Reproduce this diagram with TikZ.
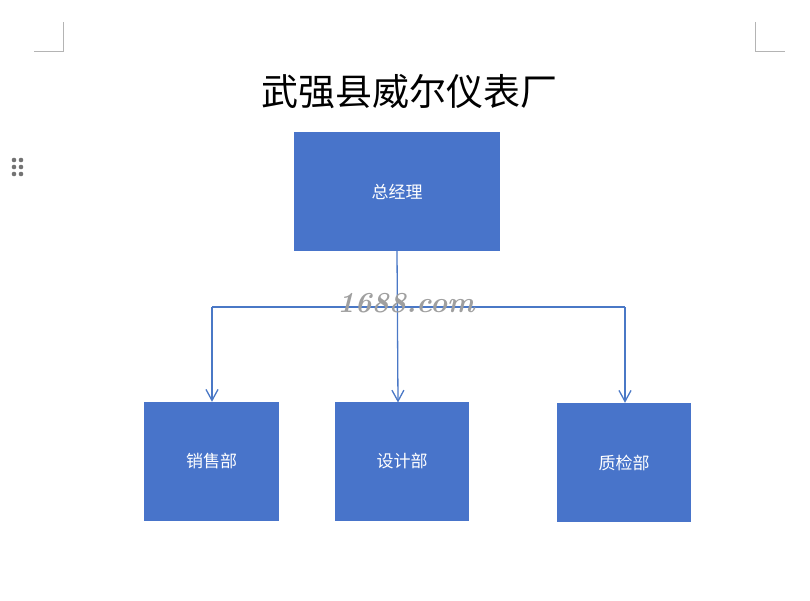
\documentclass[tikz,border=0pt]{standalone}
\usepackage{fontspec}
\newfontfamily\cjk{Noto Sans CJK SC}
\usetikzlibrary{arrows.meta}
\definecolor{boxblue}{HTML}{4874CA}
\definecolor{linkblue}{HTML}{4A78C6}
\definecolor{markgray}{HTML}{B4B4B4}
\tikzset{
  orgbox/.style={draw=none, fill=boxblue, text=white, font=\cjk\fontsize{17}{19}\selectfont, inner sep=0pt},
  link/.style={draw=linkblue, line width=1.3pt, -{Straight Barb[length=11pt,width=12pt,line width=1.3pt]}},
  plain/.style={draw=linkblue, line width=1.3pt},
  cornermark/.style={draw=markgray, line width=0.8pt},
  dot/.style={fill=gray!90!black, draw=none}
}
\begin{document}
\begin{tikzpicture}[x=1pt,y=-1pt]
\useasboundingbox (0,0) rectangle (810,601);
% page corner marks
\draw[cornermark] (34,51) -- (63,51) -- (63,22);
\draw[cornermark] (755,22) -- (755,51) -- (785,51);
% drag handle
\foreach \px in {14,21}{\foreach \py in {160,167,174}{\fill[dot] (\px,\py) circle (2.3);}}
% title
\node[font=\cjk\fontsize{37}{40}\selectfont, inner sep=0pt] (title) at (409,92) {武强县威尔仪表厂};
% boxes
\node[orgbox, minimum width=206, minimum height=119] (gm) at (397,191.5) {总经理};
\node[orgbox, minimum width=135, minimum height=119] (sales) at (211.5,461.5) {销售部};
\node[orgbox, minimum width=134, minimum height=119] (design) at (402,461.5) {设计部};
\node[orgbox, minimum width=134, minimum height=119] (qc) at (624,462.5) {质检部};
% connectors
\coordinate (jl) at (212,307);
\coordinate (jr) at (625,307);
\draw[plain] (jl) -- (jr);
\draw[link] (gm.south -| 397,0) -- (398,402.5);
\draw[link] (jl) -- (jl |- sales.north);
\draw[link] (jr) -- (jr |- qc.north);
% watermark
\node[font=\bfseries\itshape\fontsize{29}{31}\selectfont, text=gray!75, inner sep=0pt] (wm) at (406,303) {1688.com};
\end{tikzpicture}
\end{document}
